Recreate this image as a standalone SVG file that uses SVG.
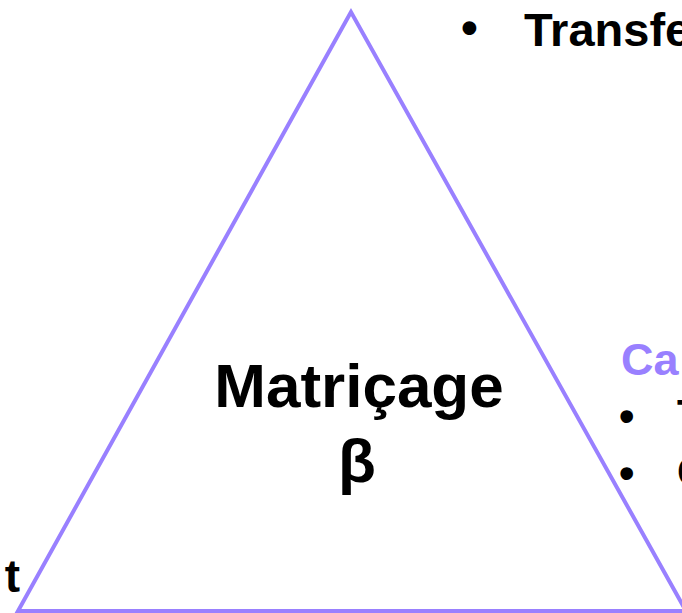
<svg xmlns="http://www.w3.org/2000/svg" width="682" height="613" viewBox="0 0 682 613">
<style>
text{font-family:"Liberation Sans",Arial,sans-serif;font-weight:bold;fill:#000}
.p{fill:#9980FF}
</style>
<rect width="682" height="613" fill="#fff"/>
<g id="triangle">
<polygon points="351,12 18,611 686,611" fill="none" stroke="#9980FF" stroke-width="4" stroke-linejoin="miter"/>
</g>
<g id="center-label">
<text x="359" y="407" font-size="62" text-anchor="middle">Matriçage</text>
<text x="357" y="482" font-size="62" text-anchor="middle">β</text>
</g>
<g id="top-right">
<text x="461" y="44" font-size="48">•</text>
<text x="524" y="46" font-size="47">Transfe</text>
</g>
<g id="right">
<text x="621" y="375" font-size="45" class="p">Ca</text>
<text x="619" y="431" font-size="44">•</text>
<text x="677" y="429" font-size="42">T</text>
<text x="619" y="488" font-size="44">•</text>
<text x="677" y="486" font-size="42">C</text>
</g>
<g id="left">
<text x="20" y="592" font-size="46" text-anchor="end">t</text>
</g>
<g id="connectors"></g>
</svg>
